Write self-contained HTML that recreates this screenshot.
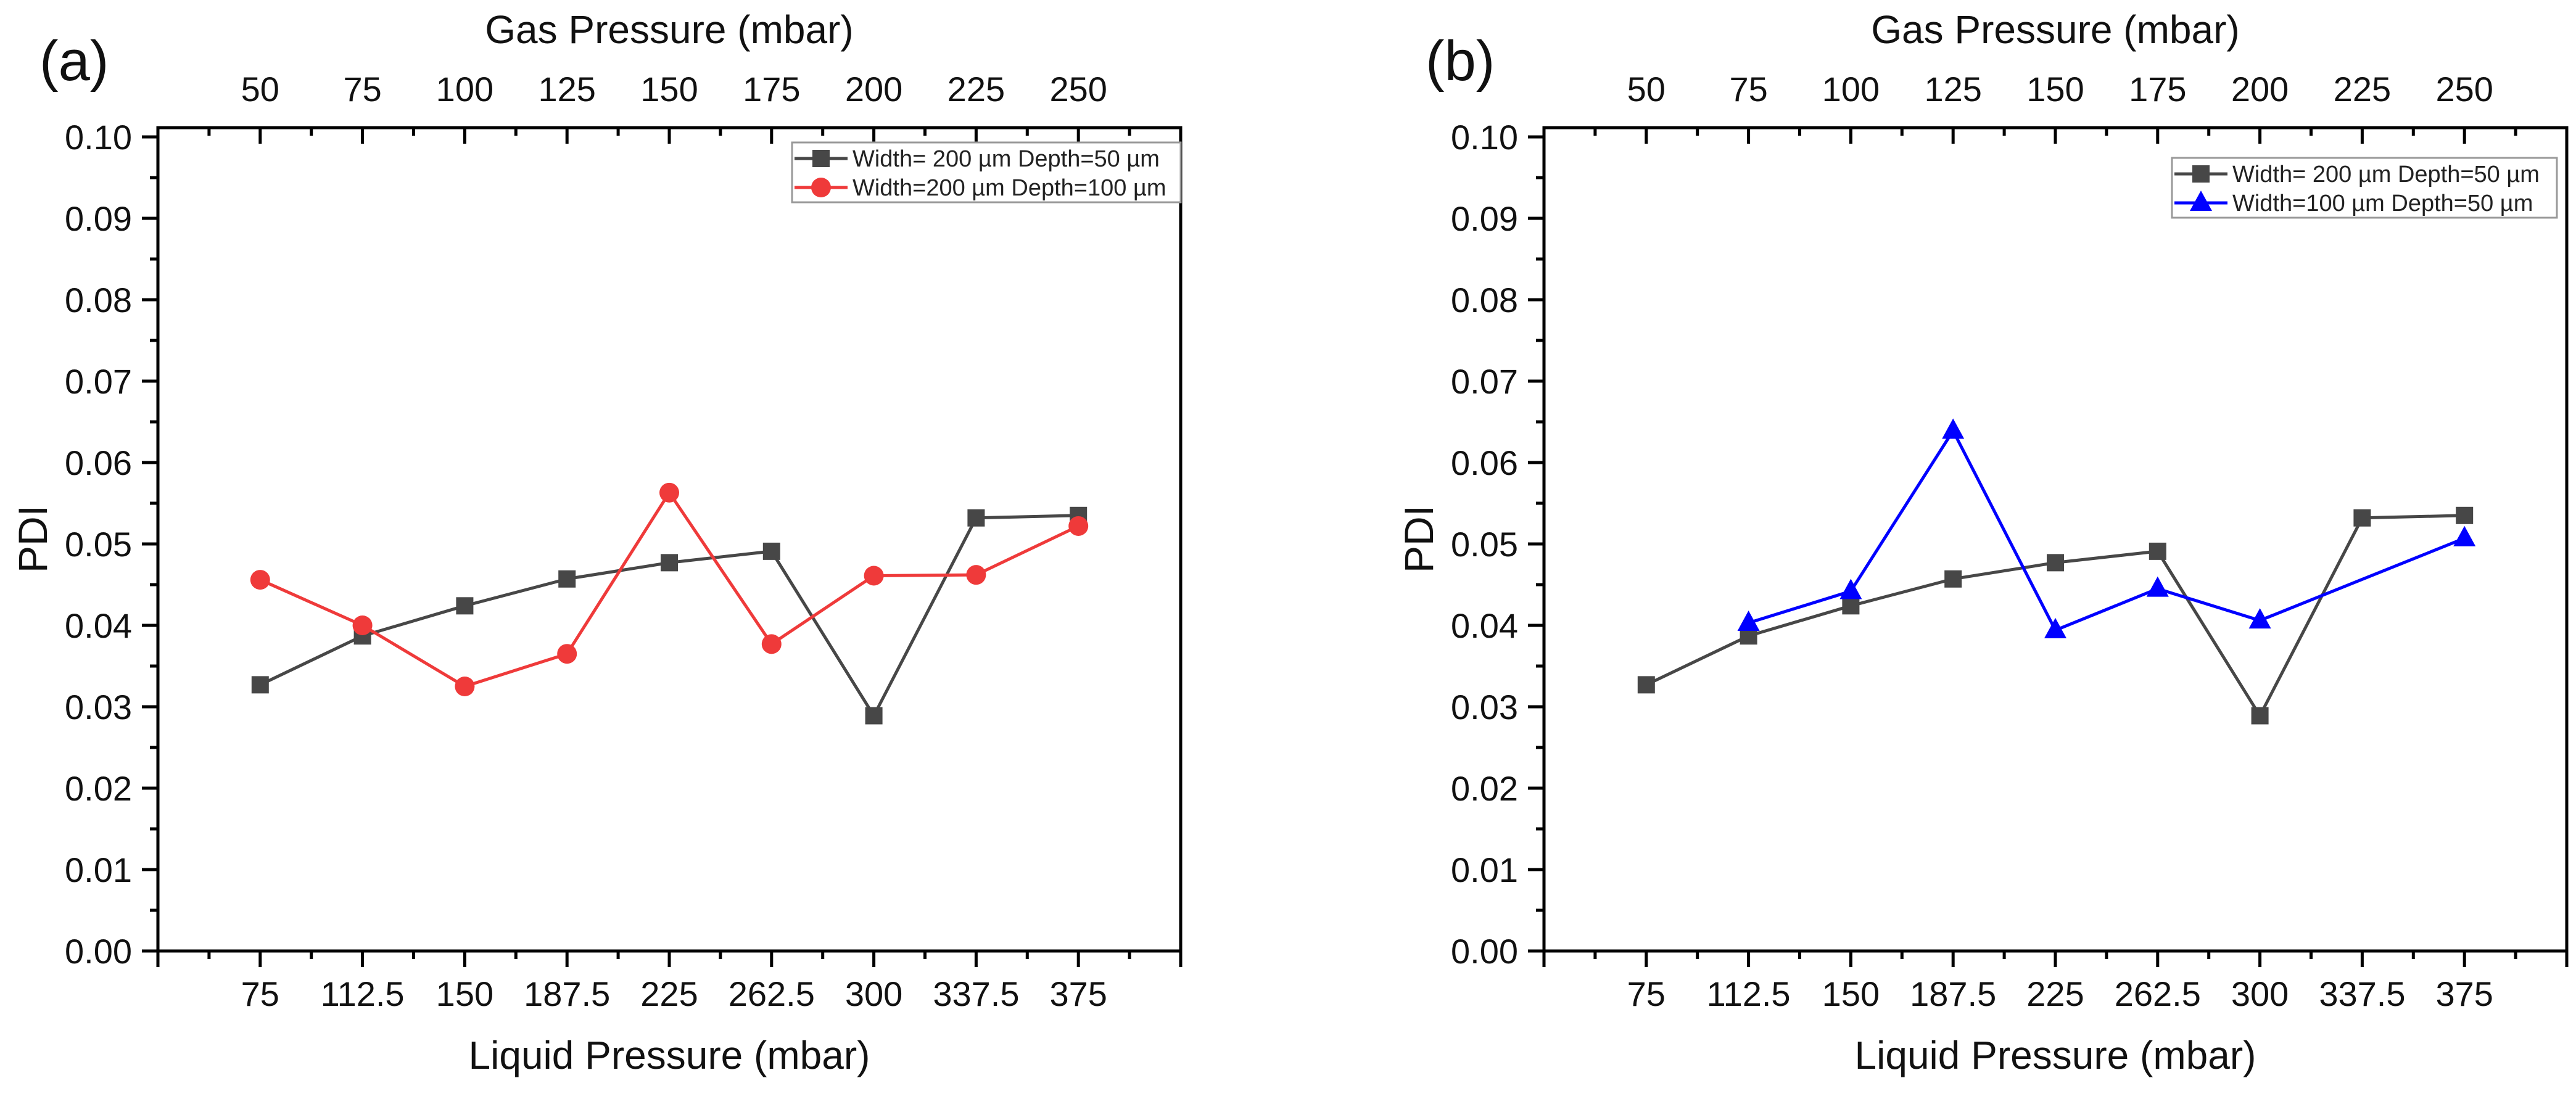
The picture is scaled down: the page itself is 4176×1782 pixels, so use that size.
<!DOCTYPE html>
<html><head><meta charset="utf-8">
<style>
html,body{margin:0;padding:0;background:#fff;}
svg{display:block;font-family:"Liberation Sans",Arial,sans-serif;}
</style></head>
<body>
<svg id="fig" width="4176" height="1782" viewBox="0 0 4176 1782" xmlns="http://www.w3.org/2000/svg">
<rect x="0" y="0" width="4176" height="1782" fill="#fff"/>
</svg>
<script>
const liquidCats = [75, 112.5, 150, 187.5, 225, 262.5, 300, 337.5, 375];
const gasCats = [50, 75, 100, 125, 150, 175, 200, 225, 250];
const yTicks = [0, 0.01, 0.02, 0.03, 0.04, 0.05, 0.06, 0.07, 0.08, 0.09, 0.10];
const blackVals = [0.0327, 0.0387, 0.0424, 0.0457, 0.0477, 0.0491, 0.0289, 0.0532, 0.0535];
const redVals = [0.0456, 0.0400, 0.0325, 0.0365, 0.0563, 0.0377, 0.0461, 0.0462, 0.0522];
const blueX = [112.5, 150, 187.5, 225, 262.5, 300, 375];
const blueVals = [0.0403, 0.0442, 0.0639, 0.0394, 0.0445, 0.0406, 0.0507];

const NS = 'http://www.w3.org/2000/svg';
const svg = document.getElementById('fig');
function mk(tag, attrs, parent){
  const e = document.createElementNS(NS, tag);
  for (const k in attrs) e.setAttribute(k, attrs[k]);
  (parent||svg).appendChild(e);
  return e;
}

function panel(left, label, series, legend){
  const right = left + 1658, top = 207, bottom = 1542;
  const xs = v => left + (v - 37.5) / 375 * 1658;
  const ys = v => bottom - v / 0.1 * 1320;
  const g = mk('g', {});
  
  

  const pl = mk('text', {x: left - 192, y: 130, 'font-size': 92, fill: '#111'}, g);
  pl.textContent = '(' + label + ')';
  
  

  // frame
  const fr = mk('rect', {x: left, y: top, width: 1658, height: bottom - top, fill: 'none', stroke: '#000', 'stroke-width': 5}, g);
  
  

  // y ticks
  yTicks.forEach((t, i) => {
    const y = ys(t);
    mk('line', {x1: left - 26, y1: y, x2: left, y2: y, stroke: '#000', 'stroke-width': 5}, g);
    if (i < yTicks.length - 1) {
      const ym = ys(t + 0.005);
      mk('line', {x1: left - 13, y1: ym, x2: left, y2: ym, stroke: '#000', 'stroke-width': 5}, g);
    }
    const tl = mk('text', {x: left - 42, y: y + 20, 'font-size': 56, 'text-anchor': 'end', fill: '#111'}, g);
    tl.textContent = t.toFixed(2);
    
    
  });

  // x ticks bottom & top
  for (let k = 0; k <= 10; k++) {
    const v = 37.5 + k * 37.5;
    const x = xs(v);
    const major = (k >= 1 && k <= 9) || k === 0 || k === 10;
    const isCat = k >= 1 && k <= 9;
    mk('line', {x1: x, y1: bottom, x2: x, y2: bottom + (isCat || k===0 || k===10 ? 26 : 13), stroke: '#000', 'stroke-width': 5}, g);
    if (isCat) mk('line', {x1: x, y1: top, x2: x, y2: top + 26, stroke: '#000', 'stroke-width': 5}, g);
    if (k < 10) {
      const xm = xs(v + 18.75);
      mk('line', {x1: xm, y1: bottom, x2: xm, y2: bottom + 13, stroke: '#000', 'stroke-width': 5}, g);
      mk('line', {x1: xm, y1: top, x2: xm, y2: top + 13, stroke: '#000', 'stroke-width': 5}, g);
    }
  }
  liquidCats.forEach((c, i) => {
    const bl = mk('text', {x: xs(c), y: 1631, 'font-size': 56, 'text-anchor': 'middle', fill: '#111'}, g);
    bl.textContent = String(c);
    
    
    const tl = mk('text', {x: xs(c), y: 164, 'font-size': 56, 'text-anchor': 'middle', fill: '#111'}, g);
    tl.textContent = String(gasCats[i]);
    
    
  });

  const gt = mk('text', {x: left + 829, y: 70, 'font-size': 64, 'text-anchor': 'middle', fill: '#111'}, g);
  gt.textContent = 'Gas Pressure (mbar)';
  
  
  const bt = mk('text', {x: left + 829, y: 1733, 'font-size': 64, 'text-anchor': 'middle', fill: '#111'}, g);
  bt.textContent = 'Liquid Pressure (mbar)';
  
  
  const yt = mk('text', {x: 0, y: 0, 'font-size': 66, 'text-anchor': 'middle', fill: '#111', transform: 'translate(' + (left - 180) + ',874) rotate(-90)'}, g);
  yt.textContent = 'PDI';
  
  

  function marker(type, x, y, color, parent){
    let m;
    if (type === 'square') m = mk('rect', {x: x - 14, y: y - 14, width: 28, height: 28, fill: color}, parent);
    else if (type === 'circle') m = mk('circle', {cx: x, cy: y, r: 16, fill: color}, parent);
    else m = mk('polygon', {points: (x) + ',' + (y - 20) + ' ' + (x - 18) + ',' + (y + 13) + ' ' + (x + 18) + ',' + (y + 13), fill: color}, parent);
    return m;
  }

  series.forEach(s => {
    const sg = mk('g', {}, g);
    
    
    const pts = s.x.map((xv, i) => xs(xv) + ',' + ys(s.y[i])).join(' ');
    mk('polyline', {points: pts, fill: 'none', stroke: s.color, 'stroke-width': 5, 'stroke-linejoin': 'round'}, sg);
    s.x.forEach((xv, i) => {
      const m = marker(s.marker, xs(xv), ys(s.y[i]), s.color, sg);
      
      
    });
  });

  // legend
  const lg = mk('g', {}, g);
  
  
  mk('rect', {x: legend.x, y: legend.y, width: legend.w, height: 97, fill: '#fff', stroke: '#999', 'stroke-width': 3}, lg);
  series.forEach((s, i) => {
    const cy = legend.y + 26 + i * 47;
    const e = mk('g', {}, lg);
    
    
    mk('line', {x1: legend.x + 4, y1: cy, x2: legend.x + 90, y2: cy, stroke: s.color, 'stroke-width': 5}, e);
    marker(s.marker, legend.x + 47, cy, s.color, e);
    const t = mk('text', {x: legend.x + 98, y: cy + 13, 'font-size': 38, fill: '#222'}, e);
    t.textContent = s.label;
  });
}

panel(256, 'a', [
  {name: 'series-w200-d50', label: 'Width= 200 \u00b5m Depth=50 \u00b5m', x: liquidCats, y: blackVals, color: '#474747', marker: 'square'},
  {name: 'series-w200-d100', label: 'Width=200 \u00b5m Depth=100 \u00b5m', x: liquidCats, y: redVals, color: '#ef3a3a', marker: 'circle'}
], {x: 1284, y: 231, w: 630});

panel(2503, 'b', [
  {name: 'series-w200-d50', label: 'Width= 200 \u00b5m Depth=50 \u00b5m', x: liquidCats, y: blackVals, color: '#474747', marker: 'square'},
  {name: 'series-w100-d50', label: 'Width=100 \u00b5m Depth=50 \u00b5m', x: blueX, y: blueVals, color: '#0000ff', marker: 'triangle'}
], {x: 3521, y: 256, w: 624});
</script>
</body></html>
